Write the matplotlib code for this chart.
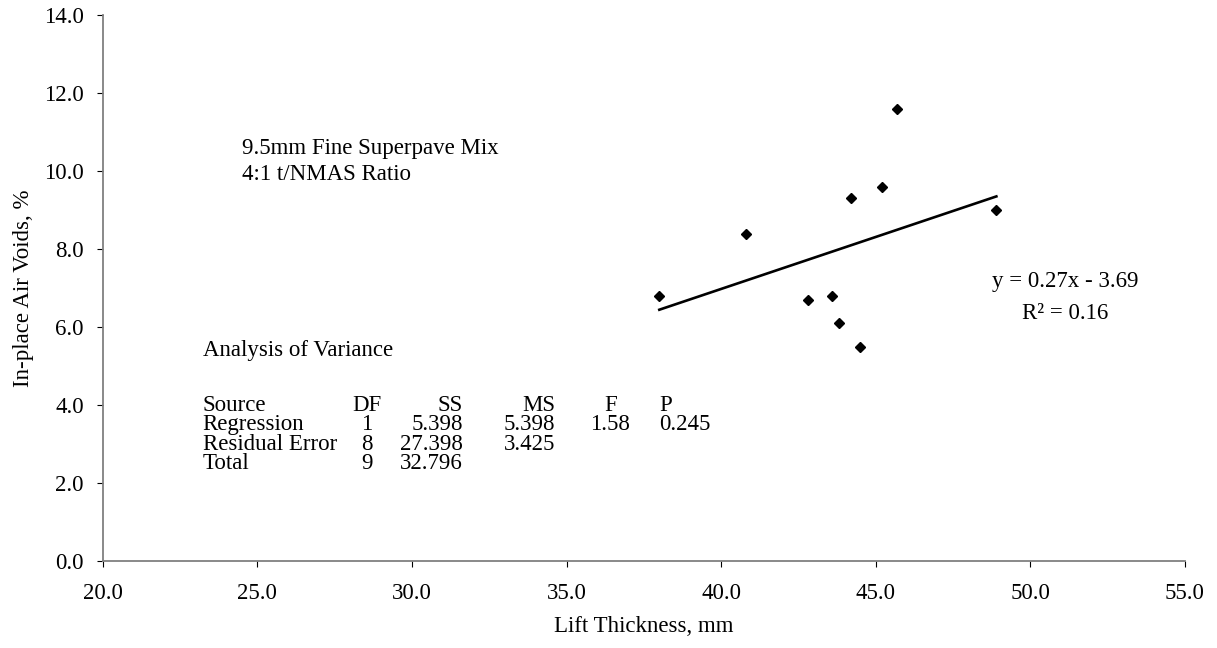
import numpy as np
import matplotlib
matplotlib.use("Agg")
import matplotlib.pyplot as plt

plt.rcParams['font.family'] = ['Liberation Serif', 'DejaVu Serif']
plt.rcParams['font.size'] = 16.5

# data
lift_thickness = [38.0, 40.8, 42.8, 43.6, 43.8, 44.5, 44.2, 45.2, 45.7, 48.9]
air_voids = [6.8, 8.4, 6.7, 6.8, 6.1, 5.5, 9.3, 9.6, 11.6, 9.0]

x_ticks = [20, 25, 30, 35, 40, 45, 50, 55]
y_ticks = [0, 2, 4, 6, 8, 10, 12, 14]

mix_label = "9.5mm Fine Superpave Mix\n4:1 t/NMAS Ratio"
eq_label = "y = 0.27x - 3.69"
r2_label = "R² = 0.16"

anova_title = "Analysis of Variance"
anova_source = ["Source", "Regression", "Residual Error", "Total"]
anova_df = ["DF", "1", "8", "9"]
anova_ss = ["SS", "5.398", "27.398", "32.796"]
anova_ms = ["MS", "5.398", "3.425", ""]
anova_f = ["F", "1.58", "", ""]
anova_p = ["P", "0.245", "", ""]

fig = plt.figure(figsize=(12.17, 6.48), dpi=100)
ax = fig.add_axes([102.7/1217, 87/648, (1185-102.7)/1217, (561-15.3)/648])

ax.plot(lift_thickness, air_voids, linestyle='none', marker='D',
        markersize=5.2, color='black', zorder=3)

# linear trendline
coef = np.polyfit(lift_thickness, air_voids, 1)
xl = np.array([min(lift_thickness), max(lift_thickness)])
ax.plot(xl, np.polyval(coef, xl), color='black', linewidth=1.9)

ax.set_xlim(20, 55)
ax.set_ylim(0, 14)
ax.set_xticks(x_ticks)
ax.set_yticks(y_ticks)
ax.set_xticklabels(["%.1f" % v for v in x_ticks])
ax.set_yticklabels(["%.1f" % v for v in y_ticks])

for s in ['top', 'right']:
    ax.spines[s].set_visible(False)
for s in ['left', 'bottom']:
    ax.spines[s].set_color('#808080')
    ax.spines[s].set_linewidth(1.3)
ax.tick_params(axis='both', direction='out', length=4.5, width=0.8, color='black')
ax.tick_params(axis='x', pad=11)
ax.tick_params(axis='y', pad=9)

ax.set_xlabel("Lift Thickness, mm", labelpad=9)
ax.set_ylabel("In-place Air Voids, %", labelpad=7)

ax.text(24.5, 10.25, mix_label, ha='left', va='center', linespacing=1.35)
ax.text(51.12, 7.17, eq_label, ha='center', va='center')
ax.text(51.12, 6.36, r2_label, ha='center', va='center')

# ANOVA table, one text block per column
ax.text(23.23, 5.41, anova_title, ha='left', va='center')
cols = [(anova_source, 23.23, 'left'), (anova_df, 28.55, 'center'),
        (anova_ss, 31.65, 'right'), (anova_ms, 34.63, 'right'),
        (anova_f, 36.42, 'center'), (anova_p, 38.0, 'left')]
for vals, xx, ha in cols:
    ax.text(xx, 3.245, "\n".join(vals), ha=ha, va='center',
            multialignment=ha, linespacing=0.9)

fig.savefig("out.png", dpi=100)
